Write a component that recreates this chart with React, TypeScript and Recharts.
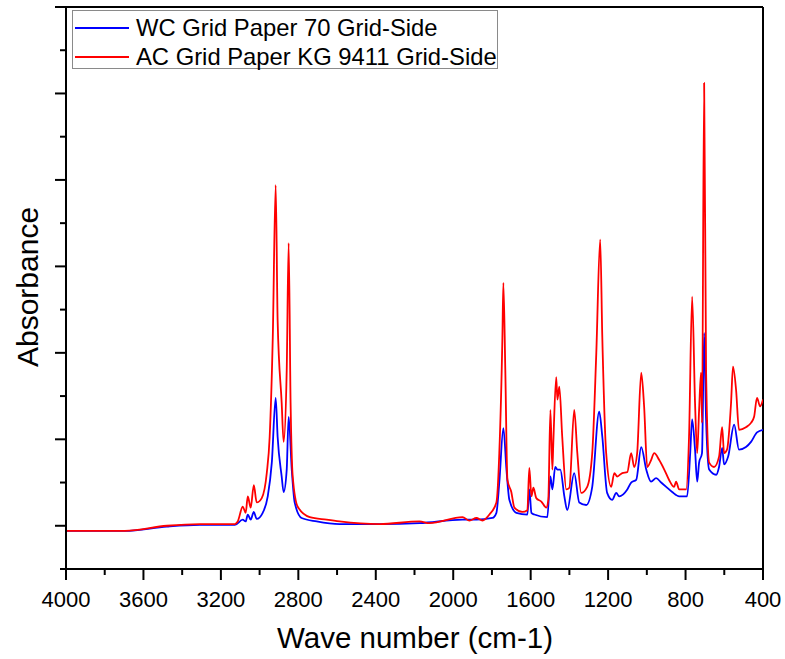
import React from "react";
import {
  LineChart,
  Line,
  XAxis,
  YAxis,
  ReferenceLine,
  Legend
} from "recharts";

// WC Grid Paper 70 Grid-Side (blue)
const wcWavenumber = [
  4000, 3696, 3479, 3309, 3128, 3087, 3072, 3061, 3046, 3030, 3015, 2984, 2958,
  2937, 2917, 2907, 2886, 2876, 2860, 2850, 2834, 2819, 2783, 2705, 2587, 2380,
  2174, 1952, 1880, 1798, 1777, 1762, 1741, 1725, 1710, 1674, 1617, 1607, 1596,
  1581, 1514, 1498, 1488, 1473, 1462, 1447, 1426, 1411, 1375, 1349, 1313, 1282,
  1246, 1230, 1205, 1179, 1158, 1143, 1101, 1081, 1055, 1029, 1003, 978, 952,
  926, 900, 869, 833, 792, 776, 766, 751, 740, 730, 715, 704, 694, 678, 642,
  627, 611, 601, 580, 549, 524, 488, 462, 431, 400
];
const wcAbsorbance = [
  -0.006, -0.006, -0.001, 0.001, 0.001, 0.007, 0.005, 0.013, 0.007, 0.016, 0.008,
  0.015, 0.034, 0.073, 0.148, 0.103, 0.057, 0.039, 0.065, 0.126, 0.065, 0.027,
  0.009, 0.005, 0.002, 0.002, 0.003, 0.007, 0.007, 0.009, 0.015, 0.05, 0.113,
  0.065, 0.03, 0.015, 0.013, 0.042, 0.015, 0.013, 0.01, 0.057, 0.042, 0.068,
  0.065, 0.065, 0.034, 0.018, 0.061, 0.027, 0.024, 0.045, 0.132, 0.103, 0.038,
  0.03, 0.038, 0.034, 0.042, 0.05, 0.053, 0.091, 0.065, 0.051, 0.055, 0.05,
  0.045, 0.039, 0.034, 0.034, 0.084, 0.123, 0.088, 0.051, 0.073, 0.084, 0.223,
  0.123, 0.065, 0.059, 0.068, 0.09, 0.071, 0.08, 0.117, 0.088, 0.091, 0.097,
  0.108, 0.111
];

// AC Grid Paper KG 9411 Grid-Side (red)
const acWavenumber = [
  4000, 3696, 3479, 3309, 3128, 3113, 3087, 3072, 3061, 3046, 3030, 3015, 2989,
  2963, 2948, 2932, 2917, 2907, 2886, 2876, 2860, 2850, 2840, 2829, 2803, 2741,
  2654, 2587, 2380, 2174, 2123, 1952, 1916, 1880, 1849, 1813, 1777, 1762, 1746,
  1741, 1731, 1720, 1700, 1684, 1643, 1617, 1607, 1596, 1586, 1571, 1545, 1519,
  1509, 1498, 1488, 1483, 1468, 1462, 1452, 1437, 1416, 1400, 1375, 1359, 1339,
  1308, 1282, 1261, 1241, 1230, 1210, 1184, 1168, 1153, 1127, 1101, 1081, 1065,
  1050, 1029, 1014, 998, 978, 962, 936, 910, 885, 859, 849, 833, 797, 782, 766,
  751, 740, 730, 720, 715, 704, 694, 678, 653, 627, 611, 601, 586, 565, 555,
  539, 524, 488, 462, 446, 431, 415, 400
];
const acAbsorbance = [
  -0.006, -0.006, 0.0, 0.002, 0.002, 0.005, 0.022, 0.015, 0.034, 0.021, 0.047,
  0.027, 0.032, 0.061, 0.103, 0.218, 0.394, 0.238, 0.142, 0.097, 0.18, 0.327,
  0.142, 0.057, 0.022, 0.01, 0.007, 0.005, 0.002, 0.005, 0.003, 0.01, 0.006,
  0.009, 0.006, 0.013, 0.027, 0.084, 0.218, 0.281, 0.18, 0.053, 0.039, 0.021,
  0.016, 0.018, 0.067, 0.034, 0.044, 0.032, 0.028, 0.021, 0.03, 0.134, 0.065,
  0.096, 0.172, 0.146, 0.161, 0.103, 0.042, 0.044, 0.134, 0.084, 0.038, 0.045,
  0.084, 0.2, 0.331, 0.218, 0.084, 0.045, 0.061, 0.057, 0.061, 0.062, 0.084,
  0.068, 0.084, 0.177, 0.138, 0.068, 0.076, 0.084, 0.076, 0.065, 0.053, 0.045,
  0.051, 0.042, 0.042, 0.103, 0.265, 0.142, 0.084, 0.134, 0.177, 0.119, 0.512,
  0.18, 0.073, 0.068, 0.08, 0.114, 0.084, 0.088, 0.142, 0.184, 0.157, 0.111,
  0.114, 0.119, 0.126, 0.148, 0.138, 0.146
];

const xTicks = [
  4000, 3800, 3600, 3400, 3200, 3000, 2800, 2600, 2400, 2200, 2000, 1800, 1600,
  1400, 1200, 1000, 800, 600, 400
];
const yTicks = [
  -0.05, 0, 0.05, 0.1, 0.15, 0.2, 0.25, 0.3, 0.35, 0.4, 0.45, 0.5, 0.55, 0.6
];

const seriesNames = ["WC Grid Paper 70 Grid-Side", "AC Grid Paper KG 9411 Grid-Side"];
const seriesColors = ["#0000ff", "#ff0000"];

const wcData = wcWavenumber.map((wn, i) => ({ wn, a: wcAbsorbance[i] }));
const acData = acWavenumber.map((wn, i) => ({ wn, a: acAbsorbance[i] }));

const FONT = '"Liberation Sans", Arial, sans-serif';

function XTick(props: any) {
  const { x, y, payload } = props;
  const v = payload.value;
  const major = v % 400 === 0;
  return (
    <g>
      <line x1={x} x2={x} y1={y} y2={y + (major ? 11 : 6)} stroke="#000" strokeWidth={2} />
      {major && (
        <text x={x} y={y + 38} textAnchor="middle" fontSize={22} fontFamily={FONT} fill="#000">
          {v}
        </text>
      )}
    </g>
  );
}

function YTick(props: any) {
  const { x, y, payload } = props;
  const v = payload.value;
  const major = Math.abs(v * 10 - Math.round(v * 10)) < 1e-6;
  return <line x1={x - (major ? 11 : 6)} x2={x} y1={y} y2={y} stroke="#000" strokeWidth={2} />;
}

function LegendBox() {
  return (
    <div
      style={{
        position: "relative",
        width: 424,
        height: 57,
        border: "1px solid #8a8a8a",
        background: "#fff",
        fontFamily: FONT,
        fontSize: 23.8,
        color: "#000"
      }}
    >
      {seriesNames.map((name, i) => (
        <div key={name} style={{ position: "absolute", left: 0, top: 2 + i * 29, height: 29, width: 424 }}>
          <div
            style={{
              position: "absolute",
              left: 2,
              top: 14,
              width: 54,
              height: 2,
              background: seriesColors[i]
            }}
          />
          <span style={{ position: "absolute", left: 63, top: 0, lineHeight: "29px", whiteSpace: "nowrap" }}>
            {name}
          </span>
        </div>
      ))}
    </div>
  );
}

export default function App() {
  return (
    <div style={{ position: "absolute", left: 0, top: 0, width: 785, height: 659, background: "#fff" }}>
      <LineChart
        width={785}
        height={659}
        margin={{ top: 7, right: 22, left: 0, bottom: 0 }}
        style={{ fontFamily: FONT }}
      >
        <XAxis
          dataKey="wn"
          type="number"
          domain={[400, 4000]}
          reversed
          allowDataOverflow
          ticks={xTicks}
          interval={0}
          tick={XTick}
          tickLine={false}
          tickSize={0}
          tickMargin={0}
          height={90}
          axisLine={{ stroke: "#000", strokeWidth: 2 }}
          label={{
            content: () => (
              <text
                x={415}
                y={648}
                textAnchor="middle"
                fontSize={29.5}
                fontFamily={FONT}
                fill="#000"
              >
                Wave number (cm-1)
              </text>
            )
          }}
        />
        <YAxis
          type="number"
          domain={[-0.05, 0.6]}
          allowDataOverflow
          ticks={yTicks}
          interval={0}
          tick={YTick}
          tickLine={false}
          tickSize={0}
          tickMargin={0}
          width={66}
          axisLine={{ stroke: "#000", strokeWidth: 2 }}
          label={{
            content: () => (
              <text
                x={38}
                y={287}
                transform="rotate(-90 38 287)"
                textAnchor="middle"
                fontSize={30}
                fontFamily={FONT}
                fill="#000"
              >
                Absorbance
              </text>
            )
          }}
        />
        <ReferenceLine y={0.6} stroke="#000" strokeWidth={2} />
        <ReferenceLine x={400} stroke="#000" strokeWidth={2} />
        <Legend
          layout="vertical"
          align="center"
          verticalAlign="middle"
          wrapperStyle={{ left: 72, top: 10, width: 426 }}
          content={() => <LegendBox />}
        />
        <Line
          data={wcData}
          dataKey="a"
          name={seriesNames[0]}
          type="monotone"
          stroke={seriesColors[0]}
          strokeWidth={1.8}
          dot={false}
          isAnimationActive={false}
        />
        <Line
          data={acData}
          dataKey="a"
          name={seriesNames[1]}
          type="monotone"
          stroke={seriesColors[1]}
          strokeWidth={1.8}
          dot={false}
          isAnimationActive={false}
        />
      </LineChart>
    </div>
  );
}
